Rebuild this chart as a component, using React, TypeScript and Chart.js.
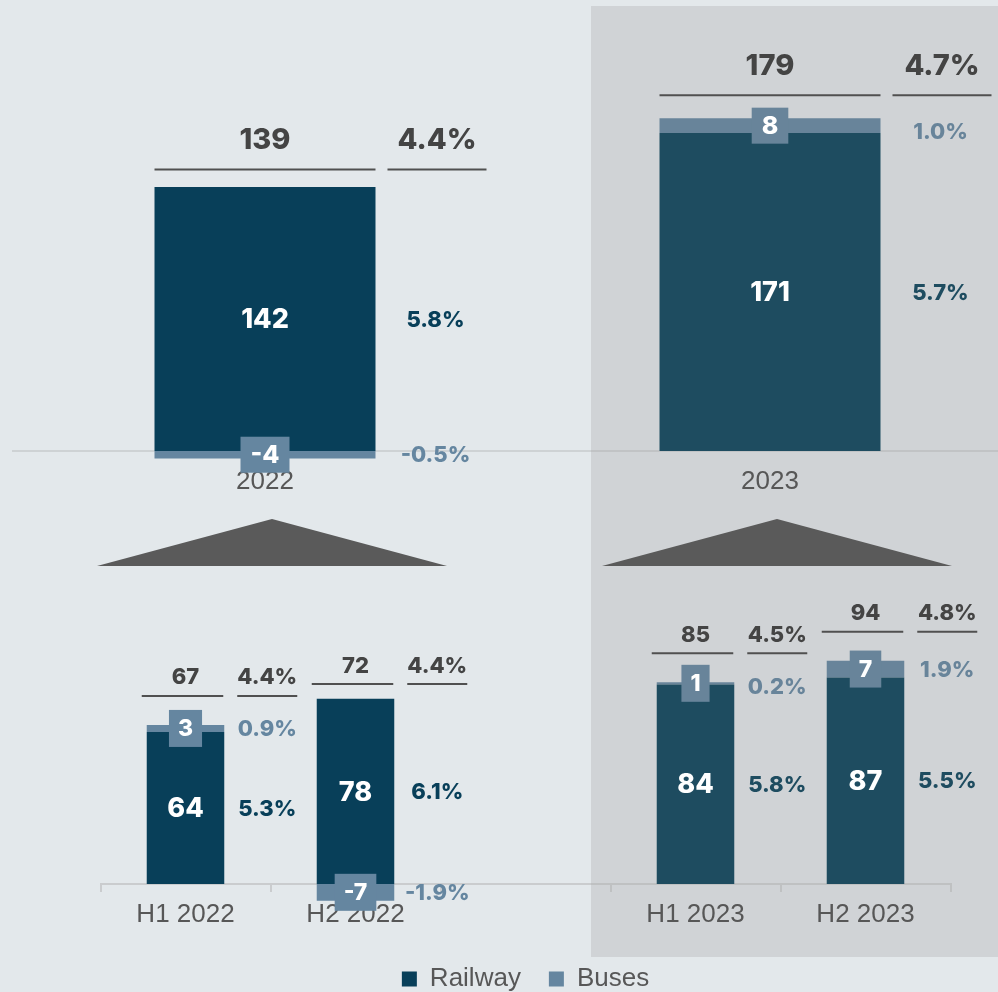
import React, { useEffect, useRef } from 'react';
import { Chart, registerables } from 'chart.js';

Chart.register(...registerables);

// ---- data ----
const topCategories = ['2022', '2023'];
const topRailway = [142, 171];
const topBuses = [-4, 8];
const topTotals = [139, 179];
const topTotalPct = ['4.4%', '4.7%'];
const topRailwayPct = ['5.8%', '5.7%'];
const topBusesPct = ['-0.5%', '1.0%'];
const topHighlight = [false, true];

const bottomCategories = ['H1 2022', 'H2 2022', '', 'H1 2023', 'H2 2023'];
const bottomRailway = [64, 78, null, 84, 87];
const bottomBuses = [3, -7, null, 1, 7];
const bottomTotals = [67, 72, null, 85, 94];
const bottomTotalPct = ['4.4%', '4.4%', null, '4.5%', '4.8%'];
const bottomRailwayPct = ['5.3%', '6.1%', null, '5.8%', '5.5%'];
const bottomBusesPct = ['0.9%', '-1.9%', null, '0.2%', '1.9%'];
const bottomHighlight = [false, false, false, true, true];

const seriesNames = ['Railway', 'Buses'];

// ---- styles ----
const RAIL = '#083f59';
const RAIL_R = '#1e4c60';
const BUS = '#6586a0';
const BUS_R = '#68849a';
const DARK = '#444444';
const AXIS_TXT = '#575757';
const SANS = '"Liberation Sans", Arial, sans-serif';
const BOLD = 'Inter, "Open Sans", sans-serif';

type LabelCfg = {
  name: string;
  railway: (number | null)[];
  buses: (number | null)[];
  totals: (number | null)[];
  totalPct: (string | null)[];
  railPct: (string | null)[];
  busPct: (string | null)[];
  highlight: boolean[];
  valueSize: number;
  boxSize: number;
  boxPadX: number;
  boxH: number;
  lineOffset: number;
  textOffset: number;
  totalSize: number;
  pctSize: number;
  pctX: number;
  pctLine0: number;
  pctLine1: number;
  lineL: number;
  lineR: number;
  busPctShift: number[];
};

function makeLabelPlugin(cfg: LabelCfg) {
  return {
    id: 'labels_' + cfg.name,
    afterDatasetsDraw(chart: any) {
      const ctx = chart.ctx as CanvasRenderingContext2D;
      const rail = chart.getDatasetMeta(0).data;
      const bus = chart.getDatasetMeta(1).data;
      const yScale = chart.scales.y;
      ctx.save();
      ctx.textAlign = 'center';
      ctx.textBaseline = 'middle';
      cfg.totals.forEach((total, i) => {
        if (total == null) return;
        const r = rail[i];
        const b = bus[i];
        const hl = cfg.highlight[i];
        const x = r.x;
        const half = r.width / 2;
        const left = x - half;
        const right = x + half;
        const railC = (r.y + r.base) / 2;
        const busC = (b.y + b.base) / 2;

        // railway value
        ctx.fillStyle = '#ffffff';
        ctx.font = `800 ${cfg.valueSize}px ${BOLD}`;
        ctx.fillText(String(cfg.railway[i]), x, railC + 1);

        // buses value box
        ctx.font = `800 ${cfg.boxSize}px ${BOLD}`;
        const txt = String(cfg.buses[i]);
        const w = ctx.measureText(txt).width + 2 * cfg.boxPadX;
        ctx.fillStyle = hl ? BUS_R : BUS;
        ctx.fillRect(x - w / 2, busC - cfg.boxH / 2, w, cfg.boxH);
        ctx.fillStyle = '#ffffff';
        ctx.fillText(txt, x, busC + 1);

        // totals
        const lineY = yScale.getPixelForValue(total) - cfg.lineOffset;
        ctx.strokeStyle = '#505050';
        ctx.lineWidth = 2;
        ctx.beginPath();
        ctx.moveTo(left + cfg.lineL, lineY);
        ctx.lineTo(right + cfg.lineR, lineY);
        ctx.moveTo(right + cfg.pctLine0, lineY);
        ctx.lineTo(right + cfg.pctLine1, lineY);
        ctx.stroke();

        ctx.fillStyle = DARK;
        ctx.font = `800 ${cfg.totalSize}px ${BOLD}`;
        ctx.fillText(String(total), x, lineY - cfg.textOffset);
        ctx.fillText(String(cfg.totalPct[i]), right + (cfg.pctLine0 + cfg.pctLine1) / 2, lineY - cfg.textOffset);

        // segment percentages
        ctx.font = `800 ${cfg.pctSize}px ${BOLD}`;
        ctx.fillStyle = hl ? RAIL_R : RAIL;
        ctx.fillText(String(cfg.railPct[i]), right + cfg.pctX, railC + 1);
        ctx.fillStyle = hl ? BUS_R : BUS;
        ctx.fillText(String(cfg.busPct[i]), right + cfg.pctX, busC + 1 + (cfg.busPctShift[i] || 0));
      });
      ctx.restore();
    },
  };
}

const trianglePlugin = {
  id: 'triangles',
  afterDraw(chart: any) {
    const ctx = chart.ctx as CanvasRenderingContext2D;
    const rail = chart.getDatasetMeta(0).data;
    const zero = chart.scales.y.getPixelForValue(0);
    ctx.save();
    ctx.fillStyle = '#5a5a5a';
    rail.forEach((r: any) => {
      const cx = r.x + 7;
      ctx.beginPath();
      ctx.moveTo(cx, zero + 68);
      ctx.lineTo(cx + 175, zero + 115);
      ctx.lineTo(cx - 175, zero + 115);
      ctx.closePath();
      ctx.fill();
    });
    ctx.restore();
  },
};

function colorFor(highlight: boolean[], normal: string, hi: string) {
  return (c: any) => (c.dataIndex != null && highlight[c.dataIndex] ? hi : normal);
}

export default function App() {
  const topRef = useRef<HTMLCanvasElement>(null);
  const botRef = useRef<HTMLCanvasElement>(null);

  useEffect(() => {
    const axisLine = 'rgba(160,160,160,0.3)';
    const top = new Chart(topRef.current as HTMLCanvasElement, {
      type: 'bar',
      data: {
        labels: topCategories,
        datasets: [
          {
            label: seriesNames[0],
            data: topRailway,
            backgroundColor: colorFor(topHighlight, RAIL, RAIL_R),
            borderWidth: 0,
          },
          {
            label: seriesNames[1],
            data: topBuses,
            backgroundColor: colorFor(topHighlight, BUS, BUS_R),
            borderWidth: 0,
          },
        ],
      },
      options: {
        responsive: false,
        devicePixelRatio: 1,
        animation: false,
        layout: { padding: { left: 12.5, right: 2.5, top: 79.2, bottom: 57.8 } },
        datasets: { bar: { categoryPercentage: 1, barPercentage: 0.4376, clip: false } as any },
        plugins: { legend: { display: false }, tooltip: { enabled: false }, title: { display: false } },
        scales: {
          x: {
            stacked: true,
            grid: { display: false, drawTicks: false, tickLength: 0 },
            border: { display: true, color: axisLine, width: 2 },
            ticks: { color: AXIS_TXT, padding: 15, font: { size: 26, family: SANS } },
          },
          y: {
            stacked: true,
            display: false,
            min: 0,
            max: 200,
          },
        },
      },
      plugins: [
        makeLabelPlugin({
          name: 'top',
          railway: topRailway,
          buses: topBuses,
          totals: topTotals,
          totalPct: topTotalPct,
          railPct: topRailwayPct,
          busPct: topBusesPct,
          highlight: topHighlight,
          valueSize: 27,
          boxSize: 25,
          boxPadX: 10,
          boxH: 36,
          lineOffset: 23,
          textOffset: 29,
          totalSize: 29,
          pctSize: 22,
          pctX: 60,
          pctLine0: 12,
          pctLine1: 111,
          lineL: 0,
          lineR: 0,
          busPctShift: [0, 6],
        }),
        trianglePlugin,
      ],
    });

    const bot = new Chart(botRef.current as HTMLCanvasElement, {
      type: 'bar',
      data: {
        labels: bottomCategories,
        datasets: [
          {
            label: seriesNames[0],
            data: bottomRailway,
            backgroundColor: colorFor(bottomHighlight, RAIL, RAIL_R),
            borderWidth: 0,
          },
          {
            label: seriesNames[1],
            data: bottomBuses,
            backgroundColor: colorFor(bottomHighlight, BUS, BUS_R),
            borderWidth: 0,
          },
        ],
      },
      options: {
        responsive: false,
        devicePixelRatio: 1,
        animation: false,
        layout: { padding: { left: 100.5, right: 47.5, top: 52.75, bottom: 0 } },
        datasets: { bar: { categoryPercentage: 1, barPercentage: 0.456, clip: false } as any },
        plugins: {
          legend: {
            display: true,
            position: 'bottom',
            labels: {
              boxWidth: 15,
              boxHeight: 15,
              padding: 28,
              color: AXIS_TXT,
              font: { size: 26, family: SANS },
            },
          },
          tooltip: { enabled: false },
          title: { display: false },
        },
        scales: {
          x: {
            stacked: true,
            grid: {
              display: true,
              drawOnChartArea: false,
              drawTicks: true,
              tickLength: 8,
              color: 'rgba(170,170,170,0.45)',
              lineWidth: 2,
              offset: true,
            },
            border: { display: true, color: 'rgba(170,170,170,0.45)', width: 2 },
            ticks: { color: AXIS_TXT, padding: 7.4, font: { size: 26, family: SANS } },
          },
          y: {
            stacked: true,
            display: false,
            min: 0,
            max: 110,
          },
        },
      },
      plugins: [
        makeLabelPlugin({
          name: 'bottom',
          railway: bottomRailway,
          buses: bottomBuses,
          totals: bottomTotals,
          totalPct: bottomTotalPct,
          railPct: bottomRailwayPct,
          busPct: bottomBusesPct,
          highlight: bottomHighlight,
          valueSize: 27,
          boxSize: 23,
          boxPadX: 9,
          boxH: 37,
          lineOffset: 29,
          textOffset: 18,
          totalSize: 22,
          pctSize: 22,
          pctX: 43,
          pctLine0: 13,
          pctLine1: 73,
          lineL: -5,
          lineR: -1,
          busPctShift: [0, 0, 0, 3, 0],
        }),
      ],
    });

    return () => {
      top.destroy();
      bot.destroy();
    };
  }, []);

  return (
    <div
      style={{
        position: 'fixed',
        left: 0,
        top: 0,
        width: 998,
        height: 992,
        overflow: 'hidden',
        background: '#e3e8eb',
      }}
    >
      <div style={{ position: 'absolute', left: 591, top: 6, width: 407, height: 951, background: '#d0d3d6' }} />
      <canvas
        ref={topRef}
        width={1025}
        height={570}
        style={{ position: 'absolute', left: 0, top: 0, width: 1025, height: 570 }}
      />
      <canvas
        ref={botRef}
        width={998}
        height={432}
        style={{ position: 'absolute', left: 0, top: 570, width: 998, height: 432 }}
      />
    </div>
  );
}
